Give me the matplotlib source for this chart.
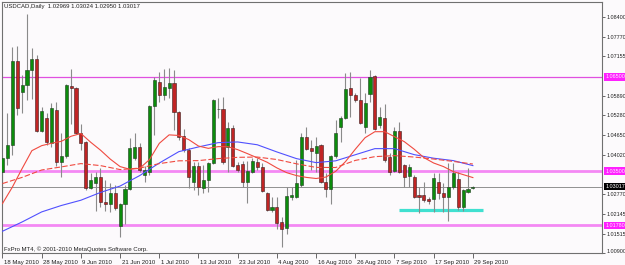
import numpy as np
import matplotlib.pyplot as plt
from matplotlib import transforms

plt.rcParams['font.family'] = ['Liberation Sans', 'DejaVu Sans']

# daily candles, 18 May 2010 .. 29 Sep 2010 (one per weekday)
opens = [1.03491, 1.03935, 1.04346, 1.07008, 1.06025, 1.06247, 1.06722, 1.07071, 1.04790, 1.05202,
         1.04410, 1.05455, 1.03808, 1.03998, 1.06216, 1.06152, 1.04727, 1.04442, 1.02984, 1.03143,
         1.03333, 1.02541, 1.02446, 1.02826, 1.01749, 1.02446, 1.02953, 1.03935, 1.04283, 1.03396,
         1.03491, 1.05582, 1.06342, 1.05930, 1.06152, 1.06311, 1.05392, 1.04632, 1.04188, 1.03174,
         1.03681, 1.02984, 1.03238, 1.03776, 1.05471, 1.05487, 1.04283, 1.04885, 1.03713, 1.03745,
         1.03174, 1.03491, 1.03808, 1.03650, 1.02826, 1.02287, 1.02351, 1.01875, 1.01685, 1.02699,
         1.02699, 1.03079, 1.04600, 1.04251, 1.04093, 1.04346, 1.03174, 1.02953, 1.03998, 1.04917,
         1.05202, 1.06152, 1.05930, 1.05772, 1.04917, 1.05962, 1.06532, 1.04980, 1.05202, 1.03966,
         1.03523, 1.04790, 1.03713, 1.03364, 1.03333, 1.02763, 1.02763, 1.02636, 1.02636, 1.03174,
         1.02826, 1.02699, 1.03016, 1.03269, 1.02382, 1.02858, 1.02969]
highs = [1.04030, 1.05360, 1.07451, 1.07483, 1.06564, 1.08497, 1.07419, 1.07198, 1.05550, 1.05360,
         1.05677, 1.05709, 1.04727, 1.06279, 1.06754, 1.06184, 1.05012, 1.04473, 1.03460, 1.03491,
         1.03618, 1.03238, 1.03143, 1.03079, 1.02509, 1.03079, 1.04568, 1.04727, 1.04410, 1.03681,
         1.05614, 1.06501, 1.06659, 1.06754, 1.06786, 1.06722, 1.05424, 1.04853, 1.04251, 1.03808,
         1.03808, 1.03713, 1.03808, 1.05804, 1.05835, 1.05867, 1.05075, 1.04980, 1.03808, 1.03840,
         1.03840, 1.03935, 1.03935, 1.03776, 1.02858, 1.02699, 1.02699, 1.02034, 1.03016, 1.03016,
         1.03871, 1.04727, 1.04917, 1.04505, 1.04600, 1.04378, 1.03460, 1.04030, 1.05138, 1.05265,
         1.06627, 1.06659, 1.05994, 1.06469, 1.05994, 1.06722, 1.06564, 1.05550, 1.05645, 1.04093,
         1.04917, 1.05075, 1.03745, 1.03745, 1.03396, 1.03016, 1.03174, 1.02699, 1.03460, 1.03460,
         1.03143, 1.03776, 1.03776, 1.03491, 1.02953, 1.03618, 1.03024]
lows = [1.02446, 1.03713, 1.04030, 1.05297, 1.05360, 1.05772, 1.05804, 1.04758, 1.04758, 1.04346,
        1.04283, 1.03681, 1.03333, 1.03935, 1.05012, 1.04695, 1.04188, 1.02921, 1.02953, 1.02224,
        1.02382, 1.02224, 1.02192, 1.02256, 1.01400, 1.01812, 1.02921, 1.03871, 1.03491, 1.03174,
        1.03396, 1.04663, 1.05709, 1.05772, 1.05835, 1.04822, 1.04505, 1.04125, 1.02984, 1.02921,
        1.02763, 1.02826, 1.02858, 1.03745, 1.05202, 1.03745, 1.03491, 1.03650, 1.03491, 1.03016,
        1.02509, 1.03460, 1.03555, 1.02858, 1.02224, 1.02192, 1.01654, 1.01083, 1.01495, 1.02604,
        1.02667, 1.03016, 1.04188, 1.03555, 1.03491, 1.03143, 1.02699, 1.02477, 1.03935, 1.04442,
        1.05170, 1.05233, 1.05709, 1.05012, 1.04727, 1.05709, 1.04822, 1.04885, 1.03808, 1.03396,
        1.03491, 1.03460, 1.03016, 1.03016, 1.02667, 1.02161, 1.02541, 1.02446, 1.02192, 1.02636,
        1.02192, 1.01907, 1.02953, 1.02256, 1.02224, 1.02826, 1.02950]
closes = [1.03935, 1.04346, 1.07008, 1.05519, 1.06247, 1.06722, 1.07071, 1.04790, 1.05424, 1.04442,
          1.05519, 1.03808, 1.03998, 1.06247, 1.06152, 1.04727, 1.04410, 1.02984, 1.03238, 1.03333,
          1.02541, 1.02446, 1.02826, 1.02319, 1.02446, 1.02953, 1.04251, 1.04283, 1.03555, 1.03555,
          1.05582, 1.06406, 1.05930, 1.06184, 1.06311, 1.05392, 1.04600, 1.04188, 1.03333, 1.03681,
          1.03016, 1.03238, 1.03776, 1.05772, 1.05487, 1.03808, 1.04885, 1.03681, 1.03555, 1.03174,
          1.03523, 1.03840, 1.03650, 1.02889, 1.02287, 1.02351, 1.01844, 1.01654, 1.02731, 1.02763,
          1.03143, 1.04600, 1.04220, 1.04156, 1.04315, 1.03174, 1.02953, 1.03998, 1.04727, 1.05202,
          1.06121, 1.05930, 1.05772, 1.05043, 1.05677, 1.06501, 1.04853, 1.05233, 1.03871, 1.03491,
          1.04790, 1.03491, 1.03333, 1.03650, 1.02699, 1.02699, 1.02604, 1.02572, 1.03301, 1.02826,
          1.02699, 1.03016, 1.03460, 1.02382, 1.02921, 1.02953, 1.03017]

# moving averages as drawn on the chart
ma_fast_bars = list(range(0, 97, 2))
ma_fast = [1.02477, 1.02994, 1.03586, 1.04156, 1.04315, 1.04390, 1.04452, 1.04613, 1.04701, 1.04423,
           1.04172, 1.03887, 1.03650, 1.03564, 1.03596, 1.03871, 1.04388, 1.04657, 1.04638, 1.04508,
           1.04302, 1.04229, 1.04283, 1.04283, 1.04188, 1.04061, 1.03928, 1.03789, 1.03608, 1.03457,
           1.03364, 1.03307, 1.03272, 1.03317, 1.03500, 1.03808, 1.04201, 1.04568, 1.04758, 1.04758,
           1.04600, 1.04442, 1.04204, 1.03935, 1.03763, 1.03650, 1.03491, 1.03396, 1.03301]
ma_slow_bars = list(range(0, 97, 4))
ma_dashed = [1.03111, 1.03307, 1.03542, 1.03640, 1.03745, 1.03681, 1.03555, 1.03602, 1.03745, 1.03833,
             1.03840, 1.03903, 1.03944, 1.03953, 1.03874, 1.03738, 1.03624, 1.03621, 1.03846, 1.03966,
             1.03998, 1.03953, 1.03890, 1.03814, 1.03732]
ma_blue = [1.01597, 1.01891, 1.02211, 1.02414, 1.02582, 1.02829, 1.03032, 1.03364, 1.03763, 1.04125,
           1.04274, 1.04410, 1.04432, 1.04343, 1.04115, 1.03903, 1.03776, 1.03833, 1.04026, 1.04220,
           1.04220, 1.04030, 1.03916, 1.03840, 1.03681]

date_labels = ['18 May 2010', '28 May 2010', '9 Jun 2010', '21 Jun 2010', '1 Jul 2010', '13 Jul 2010',
               '23 Jul 2010', '4 Aug 2010', '16 Aug 2010', '26 Aug 2010', '7 Sep 2010', '17 Sep 2010',
               '29 Sep 2010']
price_ticks = [1.08400, 1.07770, 1.07155, 1.05890, 1.05280, 1.04650, 1.04020,
               1.02770, 1.02145, 1.01515, 1.00900]
level_thin = 1.06500
levels_thick = [1.03500, 1.01780]
bid = 1.03017
support = 1.0227
support_from, support_to = 81, 98

bg = '#fcfafc'
fs = 4.3
fs_price = 3.9

fig = plt.figure(figsize=(6.25, 2.65), dpi=100)
fig.patch.set_facecolor(bg)
ax = fig.add_axes([0.0032, 0.0434, 0.96, 0.949])
ax.set_facecolor(bg)

n = len(opens)
x = np.arange(n)
o = np.array(opens)
c = np.array(closes)

# levels
ax.axhline(level_thin, color='#e050e0', lw=0.9, zorder=1)
for lv in levels_thick:
    ax.axhline(lv, color='#f488f4', lw=2.0, zorder=1)
ax.axhline(bid, color='#909090', lw=0.7, zorder=1)
ax.hlines(support, support_from, support_to, color='#40e0d0', lw=2.3, zorder=1)

# candles
ax.vlines(x, lows, highs, color='#8a8a8a', lw=0.8, zorder=2)
up = c >= o
body = np.maximum(np.abs(c - o), 0.00012)
bottom = np.minimum(o, c)
ax.bar(x[up], body[up], bottom=bottom[up], width=0.64, color='#0c8c0c',
       edgecolor='#1e3a1e', lw=0.4, zorder=3)
ax.bar(x[~up], body[~up], bottom=bottom[~up], width=0.64, color='#c02424',
       edgecolor='#3a1e1e', lw=0.4, zorder=3)

# moving averages
ax.plot(ma_slow_bars, ma_blue, color='#5050ff', lw=0.8, zorder=4)
ax.plot(ma_slow_bars, ma_dashed, color='#f04a40', lw=0.8, ls=(0, (5, 2)), zorder=4)
ax.plot(ma_fast_bars, ma_fast, color='#f04a40', lw=0.8, zorder=4)

ax.set_xlim(-0.1, 122.35)
ax.set_ylim(1.00890, 1.08876)

for s in ax.spines.values():
    s.set_color('#707070')
    s.set_linewidth(0.8)

# time axis
ax.set_xticks(range(0, n, 8))
ax.set_xticklabels(date_labels, fontsize=fs, color='#202020')
ax.tick_params(axis='x', length=3.5, width=0.6, color='#505050', pad=1.2)
shift = transforms.ScaledTranslation(1.5 / 100, 0, fig.dpi_scale_trans)
for lbl in ax.get_xticklabels():
    lbl.set_horizontalalignment('left')
    lbl.set_transform(lbl.get_transform() + shift)

# price axis
ax.yaxis.tick_right()
ax.set_yticks(price_ticks)
ax.set_yticklabels(['%.5f' % p for p in price_ticks], fontsize=fs_price, color='#202020')
ax.tick_params(axis='y', length=2.5, width=0.6, color='#505050', pad=0.8)
up_shift = transforms.ScaledTranslation(0, 2.5 / 100, fig.dpi_scale_trans)
last = ax.get_yticklabels()[-1]
last.set_transform(last.get_transform() + up_shift)

trans = transforms.blended_transform_factory(ax.transAxes, ax.transData)
for lv in [level_thin] + levels_thick:
    ax.text(1.0055, lv, '%.5f' % lv, transform=trans, fontsize=fs_price, color='#ffe8ff',
            va='center', ha='left', clip_on=False,
            bbox=dict(boxstyle='square,pad=0.25', fc='#ff20ff', ec='none'))
ax.text(1.0055, bid, '%.5f' % bid, transform=trans, fontsize=fs_price, color='white',
        va='center', ha='left', clip_on=False,
        bbox=dict(boxstyle='square,pad=0.25', fc='black', ec='none'))

# header and footer
ax.text(0.004, 0.993, 'USDCAD,Daily  %.5f %.5f %.5f %.5f' % (opens[-1], highs[-1], lows[-1], closes[-1]),
        transform=ax.transAxes, fontsize=fs, color='#202020', va='top', ha='left')
ax.text(0.004, 0.01, 'FxPro MT4, \u00a9 2001-2010 MetaQuotes Software Corp.',
        transform=ax.transAxes, fontsize=fs, color='#202020', va='baseline', ha='left')

fig.savefig('out.png', dpi=100, facecolor=bg)
